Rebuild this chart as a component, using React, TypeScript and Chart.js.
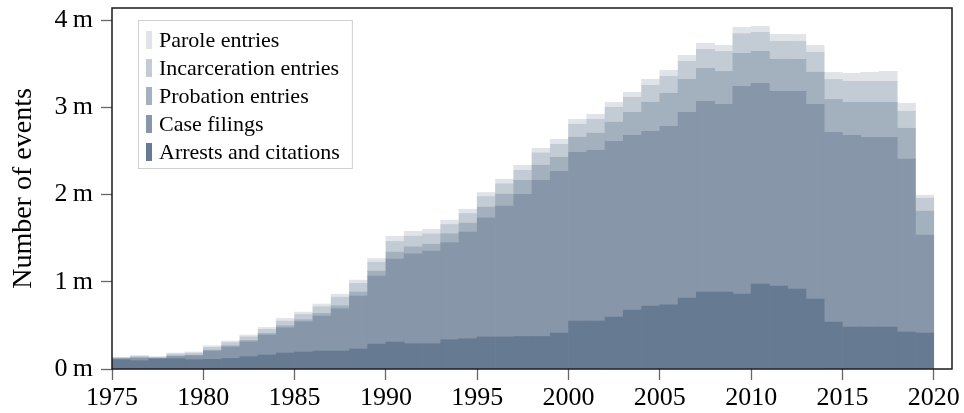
import { useEffect, useRef } from 'react';
import { Chart, registerables } from 'chart.js';

Chart.register(...registerables);

// Bar start years (each bar spans one year)
const years = [
  1975, 1976, 1977, 1978, 1979, 1980, 1981, 1982, 1983, 1984,
  1985, 1986, 1987, 1988, 1989, 1990, 1991, 1992, 1993, 1994,
  1995, 1996, 1997, 1998, 1999, 2000, 2001, 2002, 2003, 2004,
  2005, 2006, 2007, 2008, 2009, 2010, 2011, 2012, 2013, 2014,
  2015, 2016, 2017, 2018, 2019,
];

// Millions of events
const arrestsAndCitations = [
  0.107, 0.095, 0.115, 0.118, 0.107, 0.111, 0.122, 0.141, 0.160, 0.183,
  0.195, 0.206, 0.206, 0.229, 0.286, 0.309, 0.290, 0.290, 0.336, 0.347,
  0.367, 0.367, 0.374, 0.374, 0.412, 0.550, 0.550, 0.596, 0.676, 0.722,
  0.737, 0.813, 0.882, 0.882, 0.859, 0.974, 0.951, 0.916, 0.802, 0.538,
  0.481, 0.481, 0.481, 0.424, 0.412,
];
const caseFilings = [
  0.010, 0.030, 0.008, 0.025, 0.045, 0.095, 0.130, 0.170, 0.229, 0.290,
  0.347, 0.401, 0.485, 0.607, 0.779, 0.951, 1.031, 1.061, 1.115, 1.222,
  1.367, 1.501, 1.630, 1.791, 1.856, 1.936, 1.959, 2.016, 2.005, 2.005,
  2.047, 2.131, 2.188, 2.153, 2.383, 2.302, 2.234, 2.268, 2.234, 2.176,
  2.199, 2.176, 2.176, 1.982, 1.123,
];
const probationEntries = [
  0.003, 0.004, 0.003, 0.008, 0.008, 0.011, 0.015, 0.017, 0.019, 0.023,
  0.023, 0.031, 0.034, 0.046, 0.057, 0.080, 0.080, 0.080, 0.099, 0.103,
  0.122, 0.137, 0.160, 0.172, 0.160, 0.172, 0.195, 0.218, 0.263, 0.332,
  0.378, 0.378, 0.378, 0.378, 0.378, 0.367, 0.367, 0.367, 0.367, 0.378,
  0.378, 0.401, 0.401, 0.355, 0.275,
];
const incarcerationEntries = [
  0.010, 0.018, 0.010, 0.020, 0.022, 0.031, 0.035, 0.040, 0.046, 0.053,
  0.061, 0.076, 0.099, 0.099, 0.103, 0.122, 0.122, 0.118, 0.107, 0.111,
  0.122, 0.118, 0.115, 0.141, 0.149, 0.149, 0.160, 0.172, 0.172, 0.195,
  0.195, 0.206, 0.218, 0.229, 0.225, 0.218, 0.206, 0.206, 0.229, 0.229,
  0.241, 0.241, 0.241, 0.195, 0.149,
];
const paroleEntries = [
  0.004, 0.006, 0.005, 0.012, 0.013, 0.019, 0.019, 0.021, 0.023, 0.031,
  0.027, 0.031, 0.034, 0.038, 0.042, 0.061, 0.057, 0.053, 0.050, 0.050,
  0.046, 0.053, 0.057, 0.053, 0.057, 0.057, 0.057, 0.057, 0.057, 0.069,
  0.069, 0.069, 0.069, 0.069, 0.073, 0.069, 0.080, 0.080, 0.080, 0.080,
  0.092, 0.103, 0.115, 0.092, 0.034,
];

const seriesNames = [
  'Arrests and citations',
  'Case filings',
  'Probation entries',
  'Incarceration entries',
  'Parole entries',
];
const seriesValues = [
  arrestsAndCitations,
  caseFilings,
  probationEntries,
  incarcerationEntries,
  paroleEntries,
];
const seriesColors = ['#667b92', '#8796a8', '#a3b0bd', '#c3cbd4', '#e0e4e9'];

const xTickValues = [1975, 1980, 1985, 1990, 1995, 2000, 2005, 2010, 2015, 2020];
const yTickValues = [0, 1, 2, 3, 4];

const FONT = "'Liberation Serif', 'Times New Roman', serif";

const framePlugin = {
  id: 'frame',
  afterDatasetsDraw(chart: any) {
    const { ctx, chartArea } = chart;
    ctx.save();
    ctx.strokeStyle = '#1a1a1a';
    ctx.lineWidth = 1.5;
    ctx.strokeRect(chartArea.left, chartArea.top, chartArea.right - chartArea.left, chartArea.bottom - chartArea.top);
    ctx.restore();
  },
};

const legendPlugin = {
  id: 'boxLegend',
  afterDraw(chart: any) {
    const { ctx } = chart;
    const dsets = chart.data.datasets.slice().reverse();
    ctx.save();
    ctx.font = `22px ${FONT}`;
    let maxW = 0;
    dsets.forEach((d: any) => {
      maxW = Math.max(maxW, ctx.measureText(d.label).width);
    });
    const boxX = 138;
    const boxY = 20;
    const rowH = 28;
    const swX = 146;
    const textX = 159;
    const boxW = textX - boxX + maxW + 12;
    const boxH = rowH * dsets.length + 8;
    ctx.fillStyle = 'rgba(255,255,255,0.9)';
    ctx.fillRect(boxX, boxY, boxW, boxH);
    ctx.strokeStyle = '#d0d0d0';
    ctx.lineWidth = 1;
    ctx.strokeRect(boxX + 0.5, boxY + 0.5, boxW, boxH);
    dsets.forEach((d: any, i: number) => {
      const cy = boxY + 20 + i * rowH;
      ctx.fillStyle = d.backgroundColor;
      ctx.fillRect(swX, cy - 9, 6, 18);
      ctx.fillStyle = '#000';
      ctx.textBaseline = 'middle';
      ctx.textAlign = 'left';
      ctx.fillText(d.label, textX, cy + 1);
    });
    ctx.restore();
  },
};

export default function App() {
  const canvasRef = useRef<HTMLCanvasElement | null>(null);

  useEffect(() => {
    if (!canvasRef.current) return;
    Chart.defaults.font.family = FONT;
    const datasets = seriesNames.map((name, s) => ({
      label: name,
      data: years.map((yr, i) => ({ x: yr + 0.5, y: seriesValues[s][i] })),
      backgroundColor: seriesColors[s],
      borderWidth: 0,
      barPercentage: 1,
      categoryPercentage: 1,
    }));
    const chart = new Chart(canvasRef.current, {
      type: 'bar',
      data: { datasets },
      options: {
        animation: false,
        responsive: true,
        maintainAspectRatio: false,
        layout: { padding: { top: 8, right: 12, left: 0, bottom: 0 } },
        plugins: {
          legend: { display: false },
          tooltip: { enabled: false },
          title: { display: false },
        },
        scales: {
          x: {
            type: 'linear',
            stacked: true,
            offset: false,
            min: 1975,
            max: 2021,
            afterBuildTicks: (scale: any) => {
              scale.ticks = xTickValues.map((v) => ({ value: v }));
            },
            afterFit: (scale: any) => {
              scale.height = 44;
              scale.paddingLeft = 0;
              scale.paddingRight = 0;
            },
            ticks: {
              autoSkip: false,
              maxRotation: 0,
              padding: 3,
              color: '#000',
              font: { size: 26 },
              callback: (v: any) => String(v),
            },
            grid: {
              offset: false,
              drawOnChartArea: false,
              drawTicks: true,
              tickLength: 11,
              tickColor: '#666',
              tickWidth: 1.3,
            },
            border: { display: false },
          },
          y: {
            type: 'linear',
            stacked: true,
            min: 0,
            max: 4.14,
            afterBuildTicks: (scale: any) => {
              scale.ticks = yTickValues.map((v) => ({ value: v }));
            },
            afterFit: (scale: any) => {
              scale.width = 112;
              scale.paddingTop = 0;
              scale.paddingBottom = 0;
            },
            ticks: {
              padding: 8,
              color: '#000',
              font: { size: 26 },
              callback: (v: any) => `${v}\u2009m`,
            },
            grid: {
              drawOnChartArea: false,
              drawTicks: true,
              tickLength: 11,
              tickColor: '#666',
              tickWidth: 1.3,
            },
            border: { display: false },
            title: {
              display: true,
              text: 'Number of events',
              color: '#000',
              font: { size: 28 },
              padding: { top: 7, bottom: 0 },
            },
          },
        },
      },
      plugins: [framePlugin, legendPlugin],
    });
    return () => chart.destroy();
  }, []);

  return (
    <div style={{ position: 'absolute', left: 0, top: 0, width: 964, height: 413 }}>
      <canvas ref={canvasRef} />
    </div>
  );
}
